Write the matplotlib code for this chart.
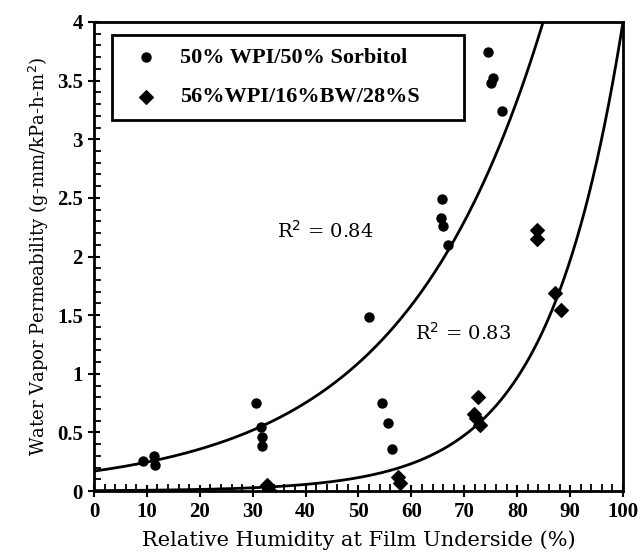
import numpy as np
import matplotlib
matplotlib.use("Agg")
import matplotlib.pyplot as plt
from matplotlib.ticker import MultipleLocator

# --- Data ---
sorb_rh = [9.2, 11.3, 11.5, 30.7, 31.5, 31.8, 31.8, 51.9, 54.5, 55.6, 56.3,
           65.8, 65.6, 65.9, 67.0, 74.5, 75.4, 75.0, 77.1]
sorb_wvp = [0.26, 0.30, 0.22, 0.75, 0.55, 0.46, 0.38, 1.48, 0.75, 0.58, 0.36,
            2.49, 2.33, 2.26, 2.10, 3.74, 3.52, 3.48, 3.24]

bw_rh = [32.7, 33.0, 57.5, 57.8, 72.6, 71.8, 72.3, 73.0, 83.8, 83.8, 87.1, 88.3]
bw_wvp = [0.05, 0.01, 0.12, 0.07, 0.80, 0.66, 0.62, 0.56, 2.23, 2.15, 1.69, 1.54]

# exponential fits  y = a * exp(b * RH)
fit_sorb = (0.17, 0.0372)
fit_bw = (0.0033, 0.071)

# --- Style ---
serif = "Liberation Serif"
label_font = "DejaVu Serif"

fig = plt.figure(figsize=(6.42, 5.58), dpi=100)
ax = fig.add_axes([0.1464, 0.12, 0.824, 0.8406])

rh = np.linspace(0, 100, 400)
for a, b in (fit_sorb, fit_bw):
    ax.plot(rh, a * np.exp(b * rh), color="black", lw=2)

ax.scatter(sorb_rh, sorb_wvp, marker="o", s=42, color="black", zorder=3,
           label="50% WPI/50% Sorbitol")
ax.scatter(bw_rh, bw_wvp, marker="D", s=48, color="black", zorder=3,
           label="56%WPI/16%BW/28%S")

ax.text(34.6, 2.22, "R$^2$ = 0.84", fontsize=14, family=label_font, va="center")
ax.text(60.7, 1.35, "R$^2$ = 0.83", fontsize=14, family=label_font, va="center")

ax.set_xlim(0, 100)
ax.set_ylim(0, 4)
ax.xaxis.set_major_locator(MultipleLocator(10))
ax.xaxis.set_minor_locator(MultipleLocator(2))
ax.yaxis.set_minor_locator(MultipleLocator(0.1))
ax.set_yticks(np.arange(0, 4.01, 0.5))
ax.set_yticklabels(["0", "0.5", "1", "1.5", "2", "2.5", "3", "3.5", "4"])

ax.tick_params(which="major", direction="inout", length=9, width=1.5,
               top=False, right=False)
ax.tick_params(which="minor", direction="in", length=5, width=1.3,
               top=False, right=False)
for lab in ax.get_xticklabels() + ax.get_yticklabels():
    lab.set_fontfamily(serif)
    lab.set_fontweight("bold")
    lab.set_fontsize(15)
for sp in ax.spines.values():
    sp.set_linewidth(2)

ax.set_xlabel("Relative Humidity at Film Underside (%)", family=label_font,
              fontsize=15, labelpad=6)
ax.set_ylabel("Water Vapor Permeability (g-mm/kPa-h-m$^2$)", family=label_font,
              fontsize=13, labelpad=4)

leg = ax.legend(loc="upper left", bbox_to_anchor=(0.034, 0.0, 0.665, 0.972),
                mode="expand", borderaxespad=0, fancybox=False, framealpha=1,
                edgecolor="black", borderpad=0.55, labelspacing=0.85,
                handlelength=2.0, handletextpad=0.5,
                prop={"family": serif, "weight": "bold", "size": 16})
leg.get_frame().set_linewidth(2)

fig.savefig("out.png", dpi=100)
